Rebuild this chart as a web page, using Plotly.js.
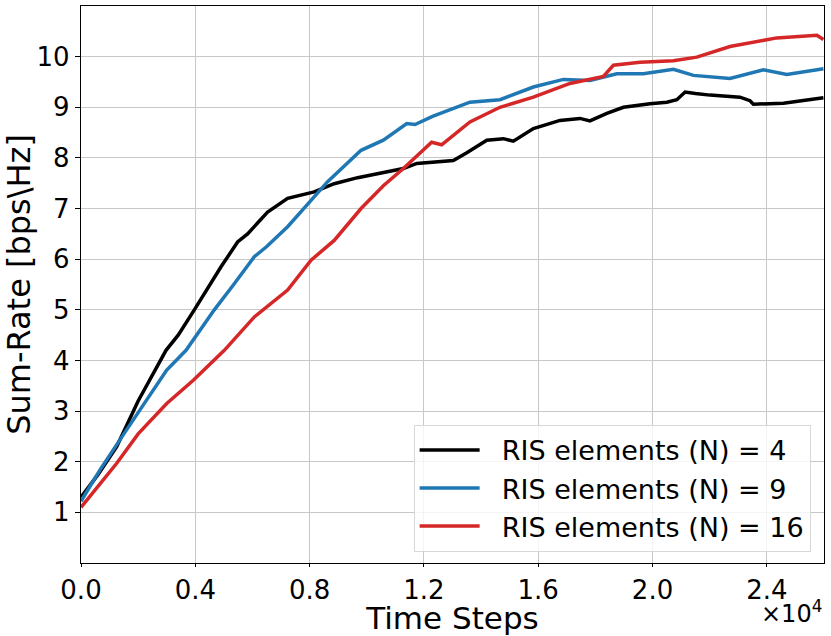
<!DOCTYPE html>
<html>
<head>
<meta charset="utf-8">
<script src="https://cdn.plot.ly/plotly-3.0.1.min.js"></script>
<style>
  body { margin: 0; background: #fff; }
  #grafica { width: 831px; height: 636px; }
</style>
</head>
<body>
<div id="grafica"></div>
<script>
// Sum-rate frente a pasos de tiempo para distinto número de elementos RIS

// N = 4
let pasos_n4 = [0, 600, 1250, 2000, 2975, 3400, 3965, 4900, 5480, 5830, 6530, 7230, 8160, 8860, 9680,
  10580, 11280, 11750, 13030, 13500, 14200, 14780, 15130, 15830, 16760, 17460, 17810, 18400, 18980,
  19910, 20500, 20850, 21140, 21500, 22010, 23060, 23410, 23530, 24580, 25980];
let rate_n4 = [1.3, 1.75, 2.3, 3.2, 4.2, 4.5, 5.0, 5.85, 6.34, 6.5, 6.93, 7.2, 7.33, 7.49, 7.61,
  7.72, 7.79, 7.89, 7.95, 8.1, 8.35, 8.38, 8.33, 8.58, 8.74, 8.78, 8.73, 8.88, 9.0,
  9.07, 9.1, 9.15, 9.3, 9.27, 9.24, 9.2, 9.13, 9.06, 9.08, 9.19];

// N = 9
let pasos_n9 = [0, 665, 1500, 2200, 3000, 3675, 4665, 5330, 6065, 6500, 7230, 8050, 8630, 9800, 10580,
  11400, 11690, 12300, 13150, 13610, 14660, 15830, 16880, 17810, 18750, 19680, 20730, 21430, 22710,
  23880, 24700, 25980];
let rate_n9 = [1.22, 1.84, 2.55, 3.13, 3.81, 4.2, 5.0, 5.49, 6.05, 6.25, 6.64, 7.16, 7.53, 8.15, 8.35,
  8.68, 8.66, 8.82, 9.0, 9.1, 9.15, 9.4, 9.55, 9.53, 9.66, 9.66, 9.75, 9.63, 9.57,
  9.74, 9.65, 9.76];

// N = 16
let pasos_n16 = [0, 1250, 2000, 3000, 3930, 5015, 6065, 7230, 8050, 8860, 9800, 10580, 11280, 12270,
  12620, 13610, 14660, 15830, 17110, 18280, 18630, 19560, 20730, 21550, 22710, 23650, 24350, 25750, 25980];
let rate_n16 = [1.1, 1.97, 2.55, 3.15, 3.61, 4.2, 4.86, 5.39, 5.98, 6.37, 7.0, 7.45, 7.79, 8.31,
  8.26, 8.71, 9.0, 9.2, 9.47, 9.61, 9.83, 9.89, 9.92, 9.99, 10.2, 10.29, 10.37, 10.42, 10.34];

// Marcas de los ejes
let ticks_x = [0, 4000, 8000, 12000, 16000, 20000, 24000];
let etiquetas_x = ['0.0', '0.4', '0.8', '1.2', '1.6', '2.0', '2.4'];
let ticks_y = [1, 2, 3, 4, 5, 6, 7, 8, 9, 10];

let fuente = 'DejaVu Sans, sans-serif';
let hueco = '\u00a0\u00a0';   // separación entre la línea y el texto de la leyenda

let datos = [
  { x: pasos_n4, y: rate_n4, name: hueco + 'RIS elements (N) = 4', mode: 'lines',
    line: { color: '#000000', width: 3.5 } },
  { x: pasos_n9, y: rate_n9, name: hueco + 'RIS elements (N) = 9', mode: 'lines',
    line: { color: '#1f77b4', width: 3.5 } },
  { x: pasos_n16, y: rate_n16, name: hueco + 'RIS elements (N) = 16', mode: 'lines',
    line: { color: '#d62728', width: 3.5 } }
];

let layout = {
  width: 831,
  height: 636,
  margin: { l: 81, r: 7, t: 6, b: 73 },
  paper_bgcolor: '#ffffff',
  plot_bgcolor: '#ffffff',
  font: { family: fuente, size: 26, color: '#000000' },
  showlegend: true,
  legend: {
    x: 0.982, xanchor: 'right',
    y: 0.02, yanchor: 'bottom',
    bgcolor: 'rgba(255,255,255,0.8)',
    bordercolor: '#d8d8d8',
    borderwidth: 1,
    font: { family: fuente, size: 27 },
    itemwidth: 60,
    tracegroupgap: 0
  },
  xaxis: {
    range: [0, 26000],
    tickvals: ticks_x,
    ticktext: etiquetas_x,
    showgrid: true, gridcolor: '#c8c8c8', gridwidth: 1,
    showline: true, linecolor: '#000000', linewidth: 1.3, mirror: true,
    ticks: 'outside', ticklen: 3, tickcolor: '#000000',
    zeroline: false,
    tickfont: { family: fuente, size: 26 },
    title: { text: 'Time Steps', font: { family: fuente, size: 31 }, standoff: 0 }
  },
  yaxis: {
    range: [0, 11],
    tickvals: ticks_y,
    showgrid: true, gridcolor: '#c8c8c8', gridwidth: 1,
    showline: true, linecolor: '#000000', linewidth: 1.3, mirror: true,
    ticks: 'outside', ticklen: 5, tickcolor: '#000000',
    zeroline: false,
    tickfont: { family: fuente, size: 26 },
    title: { text: 'Sum-Rate [bps\\Hz]', font: { family: fuente, size: 32 }, standoff: 6 }
  },
  annotations: [{
    text: '×10<sup>4</sup>',
    xref: 'paper', yref: 'paper',
    x: 1.0, y: -0.055, xanchor: 'right', yanchor: 'top',
    showarrow: false,
    font: { family: fuente, size: 24 }
  }]
};

Plotly.newPlot('grafica', datos, layout, { displayModeBar: false, staticPlot: true });
</script>
</body>
</html>
